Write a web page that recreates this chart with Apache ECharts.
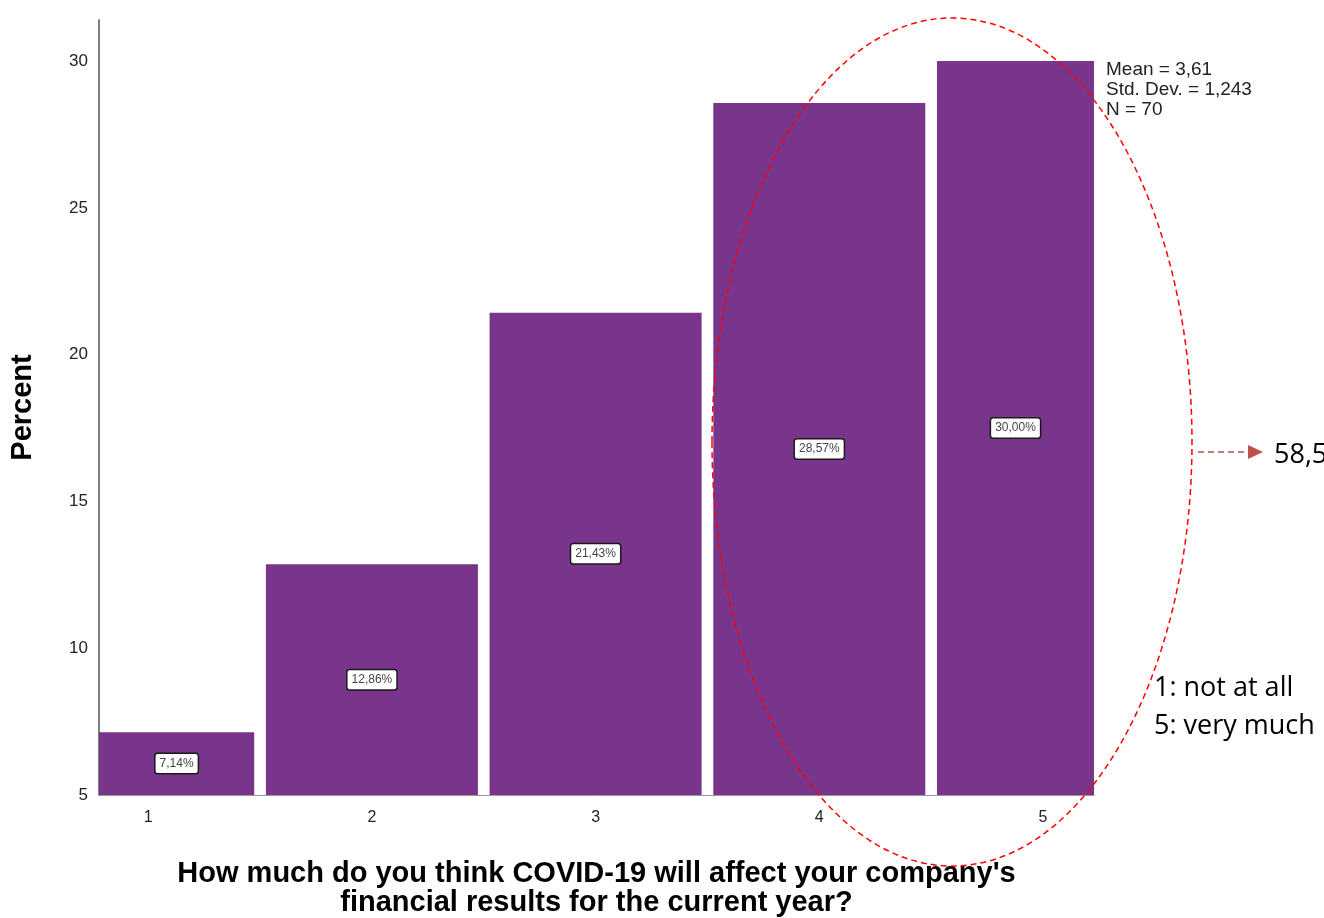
<!DOCTYPE html>
<html>
<head>
<meta charset="utf-8">
<script src="https://cdn.jsdelivr.net/npm/echarts@6/dist/echarts.min.js"></script>
<style>
  html, body { margin: 0; padding: 0; background: #fff; }
  #barChart { width: 1324px; height: 918px; }
</style>
</head>
<body>
<div id="barChart"></div>
<script>
// answer scale 1..5 and percent of respondents
let categories = [1, 2, 3, 4, 5]
let percents = [7.14, 12.86, 21.43, 28.57, 30.00]
let yTicks = [5, 10, 15, 20, 25, 30]
let statsLines = ['Mean = 3,61', 'Std. Dev. = 1,243', 'N = 70']
let scaleNotes = ['1: not at all', '5: very much']
let shareTop2 = '58,57%'

let myChart = echarts.init(document.getElementById('barChart'))

let fmtPct = (v) => v.toFixed(2).replace('.', ',') + '%'
let Y_MIN = 5

myChart.setOption({
  backgroundColor: '#fff',
  animation: false,
  grid: {
    left: 99,
    right: 230,
    top: 20,
    bottom: 123,
    outerBoundsMode: 'none'
  },
  xAxis: {
    type: 'value',
    min: 0.78,
    max: 5.228,
    interval: 0.02,
    splitLine: {show: false},
    axisTick: {show: false},
    axisLine: {
      show: true,
      lineStyle: {color: '#999', width: 1}
    },
    axisLabel: {
      showMinLabel: false,
      showMaxLabel: false,
      margin: 15,
      fontFamily: 'Liberation Sans',
      fontSize: 16,
      color: '#222',
      formatter: (v) => {
        let r = Math.round(v)
        if (Math.abs(v - r) < 1e-6 && categories.indexOf(r) >= 0) return String(r)
        return ''
      }
    },
    name: 'How much do you think COVID-19 will affect your company\'s\nfinancial results for the current year?',
    nameLocation: 'middle',
    nameGap: 64,
    nameTextStyle: {
      fontFamily: 'Liberation Sans',
      fontWeight: 'bold',
      fontSize: 29,
      lineHeight: 29,
      color: '#000'
    }
  },
  yAxis: {
    type: 'value',
    min: Y_MIN,
    max: 31.4,
    interval: 5,
    splitLine: {show: false},
    axisTick: {show: false},
    axisLine: {
      show: true,
      lineStyle: {color: '#555', width: 1.5}
    },
    axisLabel: {
      margin: 11,
      fontFamily: 'Liberation Sans',
      fontSize: 17,
      color: '#222',
      formatter: (v) => yTicks.indexOf(v) >= 0 ? String(v) : ''
    },
    name: 'Percent',
    nameLocation: 'middle',
    nameGap: 62,
    nameTextStyle: {
      fontFamily: 'Liberation Sans',
      fontWeight: 'bold',
      fontSize: 29,
      color: '#000'
    }
  },
  series: [
    {
      type: 'custom',
      data: categories.map((c, i) => [c, percents[i]]),
      renderItem: (params, api) => {
        let x = api.value(0)
        let top = api.coord([x, api.value(1)])
        let base = api.coord([x, Y_MIN])
        let w = 212
        let rect = echarts.graphic.clipRectByRect(
          {x: top[0] - w / 2, y: top[1], width: w, height: base[1] - top[1]},
          {
            x: params.coordSys.x,
            y: params.coordSys.y,
            width: params.coordSys.width,
            height: params.coordSys.height
          }
        )
        if (!rect) return
        return {
          type: 'rect',
          shape: rect,
          style: {fill: '#78358B'},
          textContent: {
            type: 'text',
            style: {
              text: fmtPct(api.value(1)),
              font: '12px "Liberation Sans"',
              fill: '#444',
              backgroundColor: '#fff',
              borderColor: '#1a1a1a',
              borderWidth: 1.5,
              borderRadius: 2,
              padding: [4, 4, 3, 4]
            }
          },
          textConfig: {position: 'inside'}
        }
      }
    }
  ],
  graphic: [
    {
      type: 'text',
      left: 1106,
      top: 60,
      z: 100,
      style: {
        text: statsLines.join('\n'),
        font: '19px "Liberation Sans"',
        lineHeight: 20,
        fill: '#222'
      }
    },
    {
      type: 'ellipse',
      z: 100,
      shape: {cx: 952, cy: 442, rx: 240, ry: 424},
      style: {
        fill: 'none',
        stroke: '#ff0000',
        lineWidth: 1.5,
        lineDash: [6, 4]
      }
    },
    {
      type: 'line',
      z: 100,
      shape: {x1: 1198, y1: 452, x2: 1250, y2: 452},
      style: {
        stroke: '#C0504D',
        lineWidth: 1.5,
        lineDash: [6, 4]
      }
    },
    {
      type: 'polygon',
      z: 100,
      shape: {points: [[1248, 445], [1263, 452], [1248, 459]]},
      style: {fill: '#C0504D'}
    },
    {
      type: 'text',
      left: 1274,
      top: 442,
      z: 100,
      style: {
        text: shareTop2,
        font: '27px "Open Sans"',
        fill: '#000'
      }
    },
    {
      type: 'text',
      left: 1154,
      top: 669,
      z: 100,
      style: {
        text: scaleNotes.join('\n'),
        font: '27px "Open Sans"',
        lineHeight: 38,
        fill: '#000'
      }
    }
  ]
})
</script>
</body>
</html>
